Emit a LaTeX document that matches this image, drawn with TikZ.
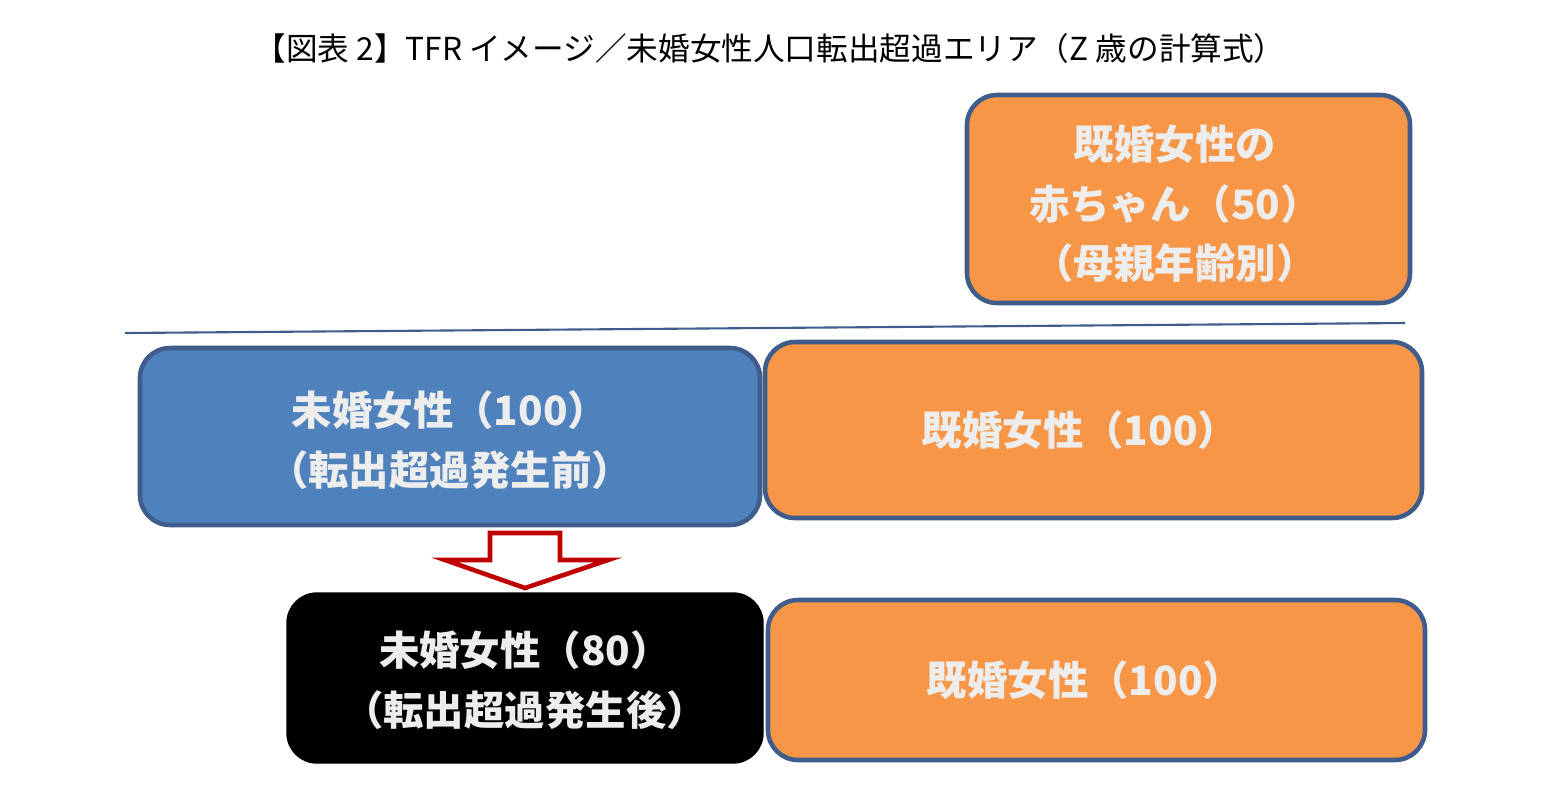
\documentclass[tikz,border=0pt]{standalone}
\usepackage{fontspec}
\setmainfont{Noto Sans CJK JP}
\usetikzlibrary{positioning}
\definecolor{boxorange}{HTML}{F79646}
\definecolor{boxblue}{HTML}{4F81BD}
\definecolor{boxline}{HTML}{3F5C8A}
\definecolor{boxtext}{HTML}{EDEDED}
\tikzset{
  panel/.style={draw=boxline, line width=1.3pt, rounded corners=0.3cm, inner sep=0pt},
  panelorange/.style={panel, fill=boxorange},
  panelblue/.style={panel, fill=boxblue},
  panelblack/.style={draw=black, fill=black, rounded corners=0.3cm, inner sep=0pt},
  paneltext/.style={text=boxtext, font=\fontsize{11.5}{17}\selectfont\bfseries, align=center}
}
\begin{document}
\begin{tikzpicture}[x=1cm,y=1cm]
	\useasboundingbox (0,0) rectangle (15.68,-7.99);
	\node[font=\fontsize{9}{11}\selectfont] (title) at (7.70,-0.48) {【図表 2】TFR イメージ／未婚女性人口転出超過エリア（Z 歳の計算式）};
	% boxes
	\draw[panelorange] (9.67,-0.95) rectangle (14.10,-3.03);
	\node[paneltext] (baby) at (11.75,-2.04) {既婚女性の\\赤ちゃん（50）\\（母親年齢別）};
	\draw[boxline, line width=0.6pt] (1.25,-3.33) -- (14.05,-3.23);
	\draw[panelblue] (1.40,-3.48) rectangle (7.60,-5.25);
	\node[paneltext] (singlebefore) at (4.50,-4.40) {未婚女性（100）\\（転出超過発生前）};
	\draw[panelorange] (7.65,-3.42) rectangle (14.22,-5.18);
	\node[paneltext] (marriedbefore) at (10.80,-4.30) {既婚女性（100）};
	\draw[panelblack] (2.87,-5.93) rectangle (7.63,-7.63);
	\node[paneltext] (singleafter) at (5.25,-6.80) {未婚女性（80）\\（転出超過発生後）};
	\draw[panelorange] (7.68,-6.00) rectangle (14.25,-7.60);
	\node[paneltext] (marriedafter) at (10.85,-6.80) {既婚女性（100）};
	% arrow
	\draw[draw=red!75!black, fill=white, line width=1.3pt]
		(4.90,-5.33) -- (5.60,-5.33) -- (5.60,-5.60) -- (6.08,-5.60) -- (5.25,-5.88)
		-- (4.45,-5.60) -- (4.90,-5.60) -- cycle;
\end{tikzpicture}
\end{document}
